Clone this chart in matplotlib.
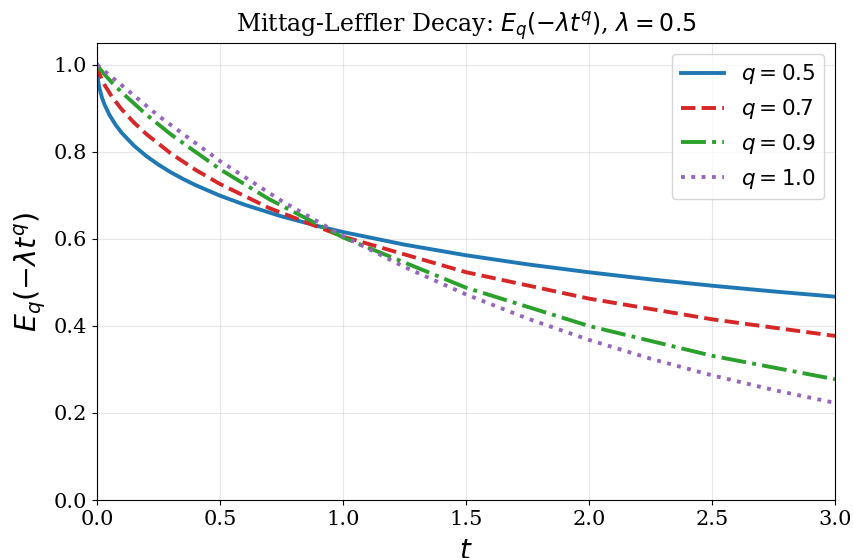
import matplotlib
matplotlib.use("Agg")
import matplotlib.pyplot as plt

# Values
t_q05 = [0.0, 0.002, 0.005, 0.01, 0.02, 0.03, 0.05, 0.075, 0.1, 0.15, 0.2, 0.25, 0.3,
         0.35, 0.4, 0.5, 0.6, 0.75, 0.9, 1.0, 1.25, 1.5, 1.75, 2.0, 2.25, 2.5, 2.75, 3.0]
y_q05 = [1.0, 0.9753, 0.9613, 0.946, 0.925, 0.9093, 0.8854, 0.8625, 0.8439, 0.8142,
         0.7904, 0.7704, 0.7529, 0.7375, 0.7236, 0.6992, 0.6784, 0.6517, 0.6291,
         0.6157, 0.5867, 0.5623, 0.5414, 0.5232, 0.5069, 0.4924, 0.4792, 0.4672]

t_q07 = [0.0, 0.01, 0.03, 0.06, 0.1, 0.15, 0.2, 0.3, 0.4, 0.5, 0.7, 1.0, 1.5, 2.0, 2.5, 3.0]
y_q07 = [1.0, 0.9784, 0.9542, 0.9270, 0.8978, 0.8673, 0.8410, 0.7963, 0.7587, 0.7260,
         0.6708, 0.6052, 0.5234, 0.4627, 0.4152, 0.3770]

t_q09 = [0.0, 0.01, 0.03, 0.06, 0.1, 0.2, 0.3, 0.5, 0.7, 1.0, 1.5, 2.0, 2.5, 3.0]
y_q09 = [1.0, 0.9918, 0.9781, 0.9596, 0.9369, 0.8857, 0.8401, 0.7600, 0.6911, 0.6034,
         0.4879, 0.3998, 0.3314, 0.2774]

t_q10 = [0.0, 0.25, 0.5, 0.75, 1.0, 1.25, 1.5, 1.75, 2.0, 2.25, 2.5, 2.75, 3.0]
y_q10 = [1.0, 0.8825, 0.7788, 0.6873, 0.6065, 0.5353, 0.4724, 0.4169, 0.3679, 0.3247,
         0.2865, 0.2528, 0.2231]

labels = [r"$q = 0.5$", r"$q = 0.7$", r"$q = 0.9$", r"$q = 1.0$"]
xticks = [0.0, 0.5, 1.0, 1.5, 2.0, 2.5, 3.0]
yticks = [0.0, 0.2, 0.4, 0.6, 0.8, 1.0]

plt.rcParams["font.family"] = "DejaVu Serif"
plt.rcParams["mathtext.fontset"] = "dejavusans"

fig = plt.figure(figsize=(8.54, 5.58), dpi=100)
ax = fig.add_axes([97/854, 1-500/558, (835-97)/854, (500-43)/558])

ax.plot(t_q05, y_q05, color="#1f77b4", lw=2.8, ls="-", label=labels[0])
ax.plot(t_q07, y_q07, color="#d62728", lw=2.8, ls="--", label=labels[1])
ax.plot(t_q09, y_q09, color="#2ca02c", lw=2.8, ls="-.", label=labels[2])
ax.plot(t_q10, y_q10, color="#9467bd", lw=2.8, ls=":", label=labels[3])

ax.set_xlim(0, 3)
ax.set_ylim(0, 1.05)
ax.set_xticks(xticks)
ax.set_yticks(yticks)
ax.tick_params(labelsize=15)
ax.grid(True, alpha=0.3)
ax.set_xlabel(r"$t$", fontsize=20, labelpad=7)
ax.set_ylabel(r"$E_q(-\lambda t^q)$", fontsize=20.5)
ax.set_title(r"Mittag-Leffler Decay: $E_q(-\lambda t^q)$, $\lambda = 0.5$", fontsize=17)
ax.legend(loc="upper right", fontsize=15.5)

fig.savefig("out.png", dpi=100)
